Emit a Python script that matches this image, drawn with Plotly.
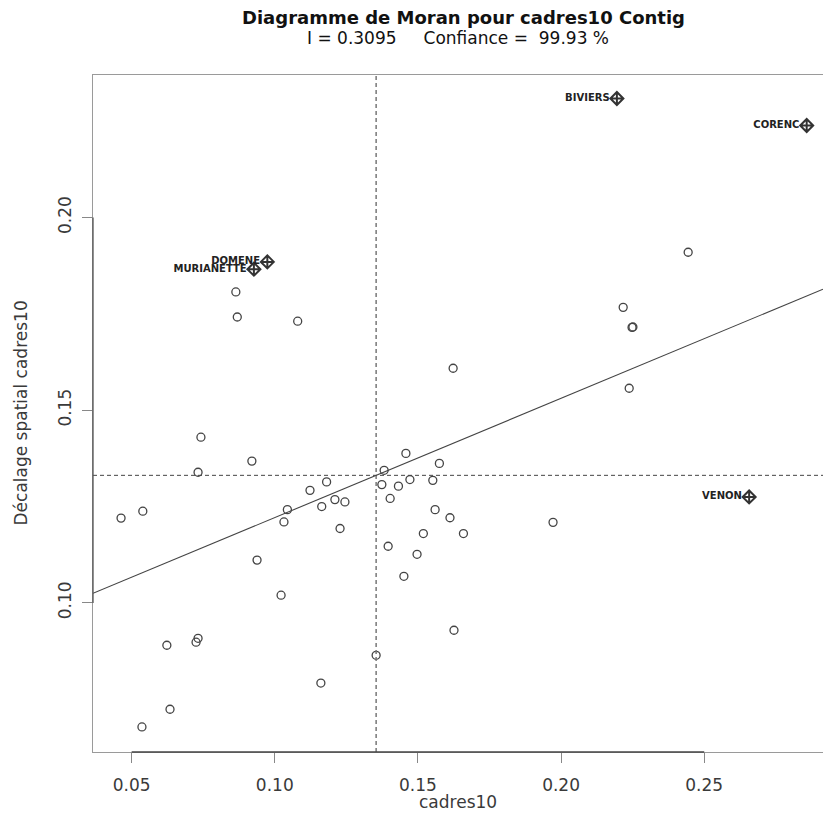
import plotly.graph_objects as go

# ---- data ----
cadres10 = [0.0864, 0.0869, 0.1080, 0.1458, 0.1575, 0.1382, 0.1181, 0.1123, 0.1374, 0.1432,
            0.1472, 0.1552, 0.1403, 0.1210, 0.1245, 0.1164, 0.1044, 0.1032, 0.1560, 0.1612,
            0.1228, 0.1519, 0.1659, 0.2444, 0.2217, 0.2248, 0.2251, 0.2238, 0.1623, 0.0742,
            0.0920, 0.0732, 0.0463, 0.0539, 0.1972, 0.0938, 0.1022, 0.1396, 0.1497, 0.1451,
            0.1626, 0.1354, 0.1161, 0.0623, 0.0732, 0.0725, 0.0536, 0.0634]
lag_cadres10 = [0.1807, 0.1742, 0.1731, 0.1388, 0.1362, 0.1344, 0.1314, 0.1292, 0.1307, 0.1303,
                0.1320, 0.1318, 0.1271, 0.1268, 0.1262, 0.1250, 0.1242, 0.1210, 0.1242, 0.1221,
                0.1193, 0.1180, 0.1180, 0.1910, 0.1767, 0.1715, 0.1716, 0.1557, 0.1609, 0.1430,
                0.1368, 0.1339, 0.1220, 0.1238, 0.1209, 0.1111, 0.1020, 0.1147, 0.1126, 0.1069,
                0.0929, 0.0864, 0.0792, 0.0890, 0.0908, 0.0898, 0.0678, 0.0724]

infl_names = ["BIVIERS", "CORENC", "DOMENE", "MURIANETTE", "VENON"]
infl_x = [0.2195, 0.2858, 0.0974, 0.0927, 0.2657]
infl_lag = [0.2309, 0.2239, 0.1885, 0.1866, 0.1275]

moran_I = 0.3095
confiance = 99.93
mean_x = 0.1354
mean_lag = 0.1331

x_range = [0.0365, 0.2915]
y_range = [0.0613, 0.2370]
x_ticks = [0.05, 0.10, 0.15, 0.20, 0.25]
y_ticks = [0.10, 0.15, 0.20]

FONT = "DejaVu Sans"
DARK = "#3a3a3a"

fig = go.Figure()

# regression line (slope = Moran's I, through the means)
line_x = list(x_range)
line_y = [mean_lag + moran_I * (v - mean_x) for v in line_x]
fig.add_trace(go.Scatter(x=line_x, y=line_y, mode="lines",
                         line=dict(color="#444444", width=1.1),
                         hoverinfo="skip", showlegend=False))

fig.add_trace(go.Scatter(x=cadres10, y=lag_cadres10, mode="markers",
                         marker=dict(symbol="circle-open", size=8, color="#444444",
                                     line=dict(color="#444444", width=1.3)),
                         showlegend=False))

fig.add_trace(go.Scatter(x=infl_x, y=infl_lag, mode="markers+text",
                         text=infl_names, textposition="middle left",
                         textfont=dict(family=FONT, size=10, color="#222222", weight="bold"),
                         marker=dict(symbol="diamond-cross-open", size=10, color="#333333",
                                     line=dict(color="#333333", width=2)),
                         showlegend=False))

# mean lines
fig.add_shape(type="line", xref="x", yref="paper", x0=mean_x, x1=mean_x, y0=0, y1=1,
              line=dict(color="#777777", width=1.5, dash="4px,3px"))
fig.add_shape(type="line", xref="paper", yref="y", x0=0, x1=1, y0=mean_lag, y1=mean_lag,
              line=dict(color="#444444", width=1, dash="4px,3px"))

# R style darker axis segments between first/last ticks
fig.add_shape(type="line", xref="x", yref="paper", x0=x_ticks[0], x1=x_ticks[-1], y0=0, y1=0,
              line=dict(color="#444444", width=1.3))
fig.add_shape(type="line", xref="paper", yref="y", x0=0, x1=0, y0=y_ticks[0], y1=y_ticks[-1],
              line=dict(color="#555555", width=1.3))

fig.update_xaxes(range=x_range, tickvals=x_ticks, ticktext=[f"{t:.2f}" for t in x_ticks],
                 ticks="outside", ticklen=10, tickcolor="#888888", tickwidth=1.2,
                 showline=True, linecolor="#9a9a9a", linewidth=1.2, mirror=True,
                 showgrid=False, zeroline=False, ticklabelstandoff=7, automargin=False,
                 tickfont=dict(family=FONT, size=17, color=DARK))
fig.update_yaxes(range=y_range, tickvals=y_ticks, ticktext=[f"{t:.2f}" for t in y_ticks],
                 ticks="outside", ticklen=10, tickcolor="#888888", tickwidth=1.2,
                 showline=True, linecolor="#9a9a9a", linewidth=1.2, mirror=False,
                 showgrid=False, zeroline=False, tickangle=-90, ticklabelstandoff=4,
                 automargin=False,
                 tickfont=dict(family=FONT, size=17, color=DARK))

annots = [
    dict(text="<b>Diagramme de Moran pour cadres10 Contig</b>", x=0.507, y=1 + (75 - 17) / 677,
         font=dict(family=FONT, size=18, color="#111111")),
    dict(text=f"I = {moran_I:.4f}\u00a0\u00a0\u00a0\u00a0\u00a0Confiance =\u00a0\u00a0{confiance:.2f} %",
         x=0.5, y=1 + (75 - 38) / 677, font=dict(family=FONT, size=17, color="#111111")),
    dict(text="cadres10", x=0.5, y=-(802 - 752) / 677, font=dict(family=FONT, size=17, color=DARK)),
    dict(text="Décalage spatial cadres10", x=-(93 - 20) / 730, y=0.5, textangle=-90,
         font=dict(family=FONT, size=17, color=DARK)),
]
for a in annots:
    fig.add_annotation(xref="paper", yref="paper", showarrow=False,
                       xanchor="center", yanchor="middle", **a)

fig.update_layout(width=823, height=813, margin=dict(l=93, r=0, t=75, b=61, autoexpand=False),
                  plot_bgcolor="white", paper_bgcolor="white",
                  font=dict(family=FONT), showlegend=False)

fig.write_html("out.html", config={"displayModeBar": False},
               post_script="document.body.style.margin='0px';"
                           "document.body.style.overflow='hidden';")
